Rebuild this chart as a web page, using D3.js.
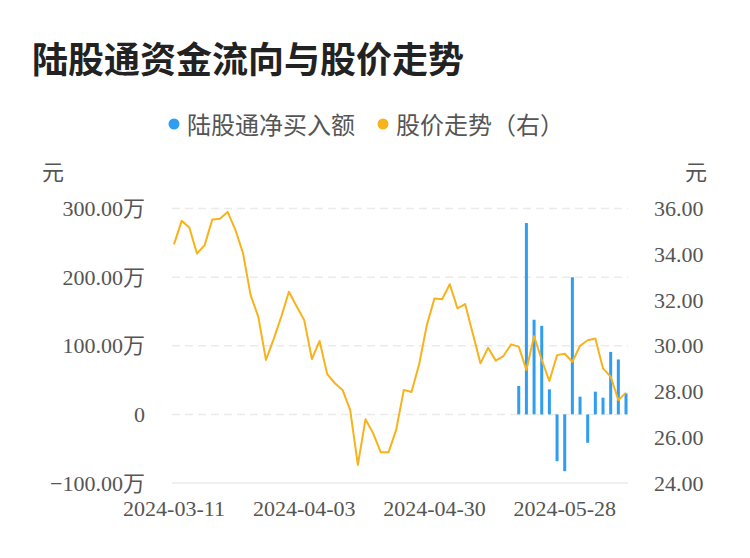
<!DOCTYPE html>
<html>
<head>
<meta charset="utf-8">
<script src="https://cdn.jsdelivr.net/npm/d3@7"></script>
<style>
  body { margin: 0; background: #fff; }
  svg { display: block; }
</style>
</head>
<body>
<div id="chart"></div>
<script>
// trading days, 2024-03-11 .. 2024-06-07
const dates = [
  "2024-03-11", "2024-03-12", "2024-03-13", "2024-03-14", "2024-03-15",
  "2024-03-18", "2024-03-19", "2024-03-20", "2024-03-21", "2024-03-22",
  "2024-03-25", "2024-03-26", "2024-03-27", "2024-03-28", "2024-03-29",
  "2024-04-01", "2024-04-02", "2024-04-03", "2024-04-08", "2024-04-09",
  "2024-04-10", "2024-04-11", "2024-04-12", "2024-04-15", "2024-04-16",
  "2024-04-17", "2024-04-18", "2024-04-19", "2024-04-22", "2024-04-23",
  "2024-04-24", "2024-04-25", "2024-04-26", "2024-04-29", "2024-04-30",
  "2024-05-06", "2024-05-07", "2024-05-08", "2024-05-09", "2024-05-10",
  "2024-05-13", "2024-05-14", "2024-05-15", "2024-05-16", "2024-05-17",
  "2024-05-20", "2024-05-21", "2024-05-22", "2024-05-23", "2024-05-24",
  "2024-05-27", "2024-05-28", "2024-05-29", "2024-05-30", "2024-05-31",
  "2024-06-03", "2024-06-04", "2024-06-05", "2024-06-06", "2024-06-07"
];

// 股价 (元), right axis
const price = [
  34.43, 35.46, 35.17, 34.03, 34.40, 35.52, 35.55, 35.85, 35.08, 34.06,
  32.21, 31.27, 29.38, 30.28, 31.27, 32.36, 31.73, 31.12, 29.42, 30.21,
  28.76, 28.36, 28.07, 27.19, 24.79, 26.79, 26.17, 25.34, 25.34, 26.32,
  28.07, 27.98, 29.19, 30.90, 32.07, 32.03, 32.69, 31.63, 31.82, 30.54,
  29.23, 29.91, 29.35, 29.55, 30.06, 29.96, 28.94, 30.42, 29.38, 28.46,
  29.59, 29.65, 29.30, 30.00, 30.24, 30.32, 29.01, 28.65, 27.63, 27.95
];

// 陆股通净买入额 (万元), only the last days have data
const netBuy = [
  null, null, null, null, null, null, null, null, null, null,
  null, null, null, null, null, null, null, null, null, null,
  null, null, null, null, null, null, null, null, null, null,
  null, null, null, null, null, null, null, null, null, null,
  null, null, null, null, null, 41.4, 278.8, 137.9, 129.0, 36.5,
  -68.2, -82.8, 199.8, 25.8, -41.4, 33.1, 24.3, 91.0, 80.0, 30.7
];

const leftTicks = [-100, 0, 100, 200, 300];
const rightTicks = [24, 26, 28, 30, 32, 34, 36];
const xTickLabels = ["2024-03-11", "2024-04-03", "2024-04-30", "2024-05-28"];
const legendNames = ["陆股通净买入额", "股价走势（右）"];

const width = 750, height = 558;
const blue = "#2f9ef2", orange = "#f8b21b";
const numFont = "'Liberation Serif', 'Noto Sans CJK SC', serif";
const cjkFont = "'Noto Sans CJK SC', sans-serif";

const svg = d3.select("#chart").append("svg")
  .attr("width", width).attr("height", height);

const x = d3.scalePoint().domain(dates).range([174, 626]);
const yL = d3.scaleLinear().domain([-100, 300]).range([483, 208.5]);
const yR = d3.scaleLinear().domain([24, 36]).range([483, 208.5]);

// title
svg.append("text")
  .attr("x", 32).attr("y", 57)
  .attr("dominant-baseline", "central")
  .style("font-family", cjkFont)
  .style("font-size", "36px").style("font-weight", "bold")
  .style("fill", "#222")
  .text("陆股通资金流向与股价走势");

// legend
const legend = svg.append("g");
const legendX = [187, 396];
const legendColors = [blue, orange];
legendNames.forEach((name, i) => {
  legend.append("circle")
    .attr("cx", legendX[i] - 13).attr("cy", 124).attr("r", 5.5)
    .style("fill", legendColors[i]);
  legend.append("text")
    .attr("x", legendX[i]).attr("y", 123)
    .attr("dominant-baseline", "central")
    .style("font-family", cjkFont).style("font-size", "24px")
    .style("fill", "#555")
    .text(name);
});

// unit labels
svg.append("text").attr("x", 42).attr("y", 170)
  .attr("dominant-baseline", "central")
  .style("font-family", cjkFont).style("font-size", "22px").style("fill", "#555")
  .text("元");
svg.append("text").attr("x", 707).attr("y", 170)
  .attr("text-anchor", "end")
  .attr("dominant-baseline", "central")
  .style("font-family", cjkFont).style("font-size", "22px").style("fill", "#555")
  .text("元");

// grid lines (left axis)
svg.append("g").selectAll("line")
  .data(leftTicks)
  .join("line")
  .attr("x1", 172).attr("x2", 628)
  .attr("y1", d => yL(d)).attr("y2", d => yL(d))
  .style("stroke", "#ebebeb").style("stroke-width", 1.5)
  .style("stroke-dasharray", d => d === -100 ? null : "8,5");

// left tick labels
svg.append("g").selectAll("text")
  .data(leftTicks)
  .join("text")
  .attr("x", 145).attr("y", d => yL(d))
  .attr("text-anchor", "end")
  .attr("dominant-baseline", "central")
  .style("font-family", numFont).style("font-size", "22px").style("fill", "#555")
  .text(d => d === 0 ? "0" : d3.format(".2f")(d) + "万");

// right tick labels
svg.append("g").selectAll("text")
  .data(rightTicks)
  .join("text")
  .attr("x", 654).attr("y", d => yR(d))
  .attr("dominant-baseline", "central")
  .style("font-family", numFont).style("font-size", "22px").style("fill", "#555")
  .text(d => d3.format(".2f")(d));

// x tick labels
svg.append("g").selectAll("text")
  .data(xTickLabels)
  .join("text")
  .attr("x", d => x(d)).attr("y", 508)
  .attr("text-anchor", "middle")
  .attr("dominant-baseline", "central")
  .style("font-family", numFont).style("font-size", "22px").style("fill", "#555")
  .text(d => d);

// bars
const barData = dates.map((d, i) => ({ date: d, v: netBuy[i] })).filter(d => d.v != null);
svg.append("g").selectAll("rect")
  .data(barData)
  .join("rect")
  .attr("x", d => x(d.date) - 1.5)
  .attr("width", 3)
  .attr("y", d => Math.min(yL(d.v), yL(0)))
  .attr("height", d => Math.abs(yL(d.v) - yL(0)))
  .style("fill", blue);

// price line
const line = d3.line()
  .x((d, i) => x(dates[i]))
  .y(d => yR(d));
svg.append("path")
  .datum(price)
  .attr("d", line)
  .style("fill", "none")
  .style("stroke", orange)
  .style("stroke-width", 2)
  .style("stroke-linejoin", "round");
</script>
</body>
</html>
